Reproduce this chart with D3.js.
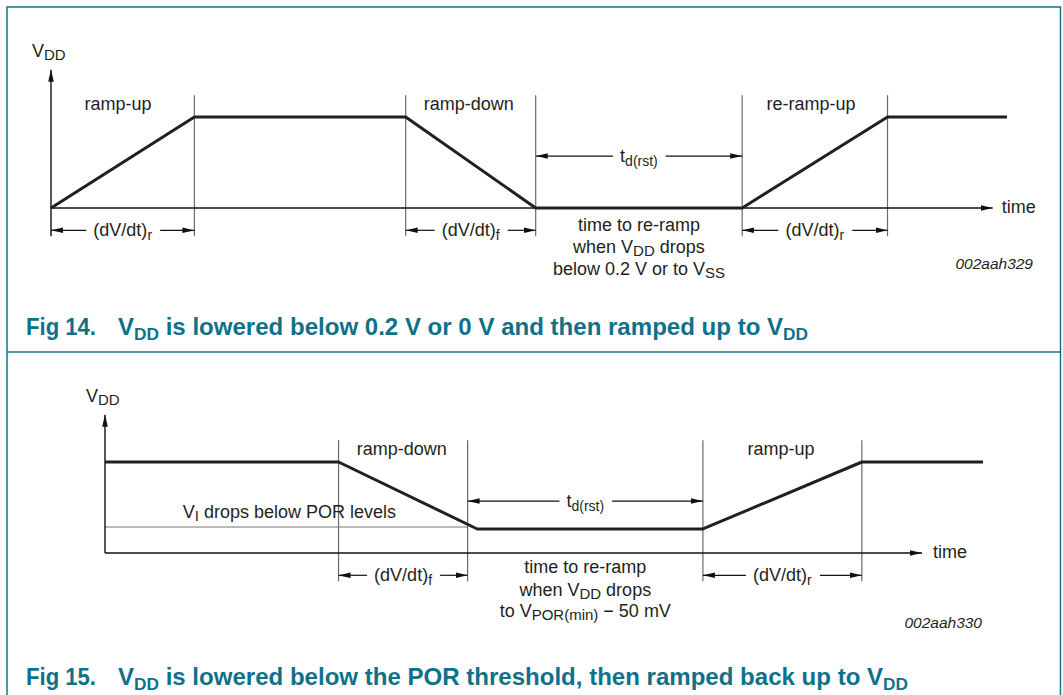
<!DOCTYPE html>
<html>
<head>
<meta charset="utf-8">
<script src="https://cdn.jsdelivr.net/npm/d3@7"></script>
<style>
  body { margin: 0; background: #fff; }
  svg { display: block; font-family: "Liberation Sans", Arial, sans-serif; }
  .txt { font-size: 18px; fill: #231f20; }
  .fid { font-size: 15.5px; font-style: italic; fill: #231f20; }
  .cap { font-size: 23px; font-weight: bold; fill: #0f7189; }
  .axis { stroke: #111; stroke-width: 1.4; fill: none; }
  .guide { stroke: #6a6a6a; stroke-width: 1.2; }
  .arr { stroke: #111; stroke-width: 1.2; }
  .sig { stroke: #231f20; stroke-width: 3; fill: none; stroke-linejoin: round; }
  .por { stroke: #777; stroke-width: 1.1; }
</style>
</head>
<body>
<svg width="1063" height="695"></svg>
<script>
// ---- fig 14: VDD lowered to 0 V, then re-ramped ----
var fig14Time   = [0, 15, 37.1, 50.7, 72.3, 87.5, 100];
var fig14Vdd    = [0, 1, 1, 0, 0, 1, 1];
var fig14Guides = [15, 37.1, 50.7, 72.3, 87.5];
var fig14PhaseAt   = [7, 43.7, 79.5];
var fig14PhaseText = ["ramp-up", "ramp-down", "re-ramp-up"];
var fig14SlopeFrom = [0, 37.1, 72.3];
var fig14SlopeTo   = [15, 50.7, 87.5];
var fig14SlopeSub  = ["r", "f", "r"];
var fig14Reset     = [50.7, 72.3];
var fig14Note = [[["time to re-ramp"]], [["when V"], ["DD", 1], [" drops"]], [["below 0.2 V or to V"], ["SS", 1]]];

// ---- fig 15: VDD lowered below POR threshold ----
var fig15Time   = [0, 26.6, 42.4, 68.1, 86.2, 100];
var fig15Vdd    = [1, 1, 0.264, 0.264, 1, 1];
var fig15Guides = [26.6, 41.3, 68.1, 86.2];
var fig15PhaseAt   = [33.8, 77];
var fig15PhaseText = ["ramp-down", "ramp-up"];
var fig15SlopeFrom = [26.6, 68.1];
var fig15SlopeTo   = [41.3, 86.2];
var fig15SlopeSub  = ["f", "r"];
var fig15Reset     = [41.3, 68.1];
var fig15Por       = 0.286;
var fig15Note = [[["time to re-ramp"]], [["when V"], ["DD", 1], [" drops"]], [["to V"], ["POR(min)", 1], [" \u2212 50 mV"]]];

var svg = d3.select("svg");

var defs = svg.append("defs");
defs.append("marker").attr("id", "head")
    .attr("viewBox", "0 0 12 8").attr("refX", 12).attr("refY", 4)
    .attr("markerWidth", 12).attr("markerHeight", 8)
    .attr("markerUnits", "userSpaceOnUse").attr("orient", "auto-start-reverse")
    .append("path").attr("d", "M0,1.2 L12,4 L0,6.8 Z").attr("fill", "#111");

// text with subscripts: parts = [[text, isSub], ...]
function rich(t, parts, subSize, shift) {
    var cur = 0;
    parts.forEach(function (p) {
        var s = t.append("tspan").text(p[0]);
        var want = p[1] ? shift : 0;
        if (want !== cur) s.attr("dy", want - cur);
        if (p[1]) s.style("font-size", subSize + "px");
        cur = want;
    });
    return t;
}

function drawFig(c) {
    var g = svg.append("g");
    var x = c.x, y = c.y;

    // guides
    g.selectAll(".guide").data(c.guides).enter().append("line").attr("class", "guide")
        .attr("x1", function (d) { return x(d); }).attr("x2", function (d) { return x(d); })
        .attr("y1", y(1.24)).attr("y2", y(-0.31));

    if (c.por != null) {
        g.append("line").attr("class", "por")
            .attr("x1", x(0)).attr("x2", x(c.reset[0])).attr("y1", y(c.por)).attr("y2", y(c.por));
    }

    // axes
    g.append("line").attr("class", "axis").attr("x1", x(0)).attr("x2", x(0))
        .attr("y1", y(c.yAxisBottom)).attr("y2", y(1.52)).attr("marker-end", "url(#head)");
    g.append("line").attr("class", "axis").attr("x1", x(0)).attr("x2", x(c.tEnd))
        .attr("y1", y(0)).attr("y2", y(0)).attr("marker-end", "url(#head)");
    g.append("text").attr("class", "txt").attr("x", x(c.tEnd) + c.timeGap).attr("y", y(0) + 5).text("time");
    rich(g.append("text").attr("class", "txt").attr("x", x(0) - 19).attr("y", y(1.52) - 13),
        [["V"], ["DD", 1]], 15, 3);

    // waveform
    var line = d3.line().x(function (d, i) { return x(c.time[i]); }).y(function (d) { return y(d); });
    g.append("path").attr("class", "sig").attr("d", line(c.vdd));

    // phase labels
    g.selectAll(".phase").data(c.phaseAt).enter().append("text").attr("class", "txt")
        .attr("text-anchor", "middle").attr("x", function (d) { return x(d); }).attr("y", y(1.08))
        .text(function (d, i) { return c.phaseText[i]; });

    // dimension arrows
    function span(a, b, v, parts) {
        var cx = (x(a) + x(b)) / 2, yy = y(v);
        var t = rich(g.append("text").attr("class", "txt").attr("text-anchor", "middle")
            .attr("x", cx).attr("y", yy + 6), parts, 14, 4);
        var w = t.node().getBBox().width;
        g.append("line").attr("class", "arr").attr("x1", cx - w / 2 - 7).attr("x2", x(a))
            .attr("y1", yy).attr("y2", yy).attr("marker-end", "url(#head)");
        g.append("line").attr("class", "arr").attr("x1", cx + w / 2 + 8).attr("x2", x(b))
            .attr("y1", yy).attr("y2", yy).attr("marker-end", "url(#head)");
    }
    c.slopeFrom.forEach(function (a, i) {
        span(a, c.slopeTo[i], -0.245, [["(dV/dt)"], [c.slopeSub[i], 1]]);
    });
    span(c.reset[0], c.reset[1], 0.571, [["t"], ["d(rst)", 1]]);

    // note under the reset interval
    var mid = (x(c.reset[0]) + x(c.reset[1])) / 2;
    c.note.forEach(function (parts, i) {
        rich(g.append("text").attr("class", "txt").attr("text-anchor", "middle")
            .attr("x", mid).attr("y", y(0) + c.noteRows[i]), parts, 15, 3);
    });

    if (c.porText) {
        rich(g.append("text").attr("class", "txt").attr("text-anchor", "middle")
            .attr("x", x(21)).attr("y", y(0.385)), [["V"], ["I", 1], [" drops below POR levels"]], 15, 3);
    }

    g.append("text").attr("class", "fid").attr("text-anchor", "end")
        .attr("x", c.idX).attr("y", c.idY).text(c.id);
}

drawFig({
    x: d3.scaleLinear().domain([0, 100]).range([51, 1007]),
    y: d3.scaleLinear().domain([0, 1]).range([208, 117]),
    time: fig14Time, vdd: fig14Vdd, guides: fig14Guides,
    phaseAt: fig14PhaseAt, phaseText: fig14PhaseText,
    slopeFrom: fig14SlopeFrom, slopeTo: fig14SlopeTo, slopeSub: fig14SlopeSub,
    reset: fig14Reset, note: fig14Note, noteRows: [23, 45, 67],
    yAxisBottom: -0.31, tEnd: 98.5, timeGap: 9,
    id: "002aah329", idX: 1033, idY: 269
});

drawFig({
    x: d3.scaleLinear().domain([0, 100]).range([105, 983]),
    y: d3.scaleLinear().domain([0, 1]).range([553, 462]),
    time: fig15Time, vdd: fig15Vdd, guides: fig15Guides,
    phaseAt: fig15PhaseAt, phaseText: fig15PhaseText,
    slopeFrom: fig15SlopeFrom, slopeTo: fig15SlopeTo, slopeSub: fig15SlopeSub,
    reset: fig15Reset, note: fig15Note, noteRows: [20, 43, 64],
    por: fig15Por, porText: true,
    yAxisBottom: 0, tEnd: 93.05, timeGap: 11,
    id: "002aah330", idX: 982, idY: 628
});

// frame + captions
svg.append("path").attr("d", "M7,700 V7 H1060.5 V700").attr("fill", "none")
    .attr("stroke", "#16738a").attr("stroke-width", 1.5);
svg.append("line").attr("x1", 7).attr("x2", 1060.5).attr("y1", 352).attr("y2", 352)
    .attr("stroke", "#16738a").attr("stroke-width", 1.5);

function caption(num, parts, yy, endX) {
    svg.append("text").attr("class", "cap").attr("x", 26).attr("y", yy)
        .attr("textLength", 70).attr("lengthAdjust", "spacingAndGlyphs").text("Fig " + num + ".");
    rich(svg.append("text").attr("class", "cap").attr("x", 118).attr("y", yy)
        .attr("textLength", endX - 118).attr("lengthAdjust", "spacingAndGlyphs"), parts, 16.5, 5);
}
caption(14, [["V"], ["DD", 1], [" is lowered below 0.2 V or 0 V and then ramped up to V"], ["DD", 1]], 335, 808);
caption(15, [["V"], ["DD", 1], [" is lowered below the POR threshold, then ramped back up to V"], ["DD", 1]], 685, 908);
</script>
</body>
</html>
